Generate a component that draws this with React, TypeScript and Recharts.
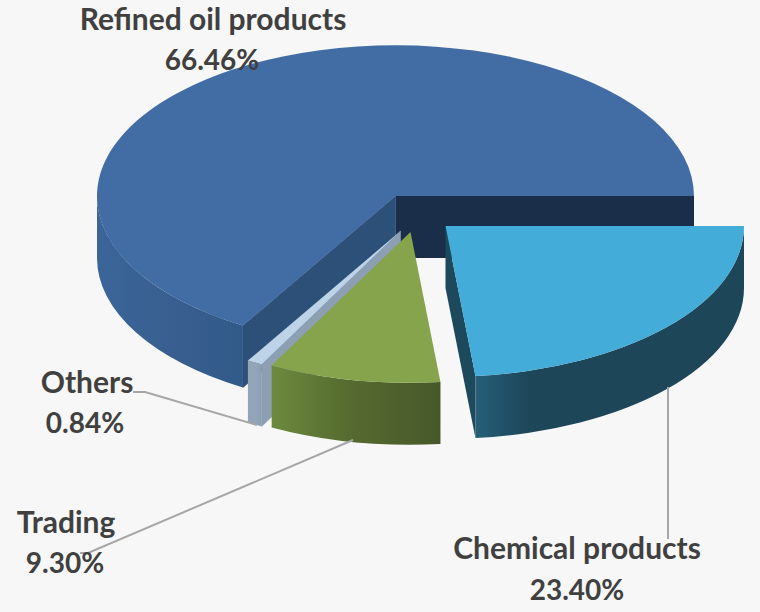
import { PieChart, Pie } from "recharts";

// going counter-clockwise from 3 o'clock, so the front slices are painted last
const categories = ["Refined oil products", "Others", "Trading", "Chemical products"];
const shares = [66.46, 0.84, 9.3, 23.4];

const data = categories.map((name, i) => ({ name, value: shares[i] }));

const WIDTH = 760;
const HEIGHT = 612;
const SQUASH = 0.505; // how flat the disc looks
const DEPTH = 62;

const sliceLook: Record<string, any> = {
  "Refined oil products": {
    dx: 0,
    dy: 0,
    top: "#426da4",
    startWall: "#1a2e4a",
    endWall: "#2d5079",
    rim: ["#3b6599", "#385f8f", "#325a89"],
    mid: 0.5,
  },
  Others: {
    dx: 5,
    dy: 35,
    top: "#bdd3e8",
    endWall: "#8c9fb3",
    rim: ["#93a5b9", "#93a5b9", "#8c9fb3"],
    mid: 0.5,
  },
  Trading: {
    dx: 15,
    dy: 36,
    top: "#86a44b",
    rim: ["#6c8a3e", "#566b2f", "#47582a"],
    mid: 0.45,
  },
  "Chemical products": {
    dx: 50,
    dy: 30,
    top: "#43acd9",
    startWall: "#1c4a5c",
    rim: ["#265e78", "#1d4659", "#1d4659"],
    mid: 0.2,
  },
};

const labelSpots: Record<string, any> = {
  "Refined oil products": { x: 213, y: 30, pctX: 212, pctY: 70 },
  Others: { x: 87, y: 393, pctX: 85, pctY: 433, leader: "133,392 145,392 257,425" },
  Trading: { x: 66, y: 533, pctX: 65, pctY: 573, leader: "80,553 88,553 353,440" },
  "Chemical products": { x: 577, y: 559, pctX: 577, pctY: 600, leader: "668,387 668,539" },
};

function wallPath(a: number[], b: number[], rx: number, ry: number, big: number) {
  return (
    `M${a[0]},${a[1]} A${rx},${ry} 0 ${big} 0 ${b[0]},${b[1]} ` +
    `L${b[0]},${b[1] + DEPTH} A${rx},${ry} 0 ${big} 1 ${a[0]},${a[1] + DEPTH} Z`
  );
}

function flatWall(c: number[], p: number[]) {
  return (
    `M${c[0]},${c[1]} L${p[0]},${p[1]} L${p[0]},${p[1] + DEPTH} L${c[0]},${c[1] + DEPTH} Z`
  );
}

// the library hands over the angles, the slice is then drawn as a tilted disc
function Slice3D(props: any) {
  const { cx, cy, outerRadius, startAngle, endAngle, name } = props;
  const look = sliceLook[name];
  const rx = outerRadius;
  const ry = outerRadius * SQUASH;
  const ox = cx + look.dx;
  const oy = cy + look.dy;
  const at = (deg: number) => {
    const t = (deg * Math.PI) / 180;
    return [ox + rx * Math.cos(t), oy - ry * Math.sin(t)];
  };
  const lo = Math.min(startAngle, endAngle);
  const hi = Math.max(startAngle, endAngle);
  const rimLo = Math.max(lo, 180);
  const rimHi = Math.min(hi, 360);
  const gradId = "rim-" + name.replace(/\s/g, "");
  const a = at(lo);
  const b = at(hi);
  const big = hi - lo > 180 ? 1 : 0;

  return (
    <g>
      <defs>
        <linearGradient id={gradId} x1="0" y1="0" x2="1" y2="0">
          <stop offset="0" stopColor={look.rim[0]} />
          <stop offset={look.mid} stopColor={look.rim[1]} />
          <stop offset="1" stopColor={look.rim[2]} />
        </linearGradient>
      </defs>
      {look.startWall && <path d={flatWall([ox, oy], a)} fill={look.startWall} />}
      {look.endWall && (
        <path
          d={flatWall([ox, oy], b)}
          fill={look.endWall}
          stroke={look.endWall}
          strokeWidth={0.6}
        />
      )}
      {rimHi > rimLo && (
        <path
          d={wallPath(at(rimLo), at(rimHi), rx, ry, 0)}
          fill={`url(#${gradId})`}
        />
      )}
      <path
        d={`M${ox},${oy} L${a[0]},${a[1]} A${rx},${ry} 0 ${big} 0 ${b[0]},${b[1]} Z`}
        fill={look.top}
      />
    </g>
  );
}

function SliceLabel(props: any) {
  const name = categories[props.index];
  const spot = labelSpots[name];
  const textStyle = {
    fontFamily: "Lato, sans-serif",
    fontWeight: 700,
    fill: "#404040",
  };
  return (
    <g>
      {spot.leader && (
        <polyline points={spot.leader} fill="none" stroke="#a6a6a6" strokeWidth={2} />
      )}
      <text x={spot.x} y={spot.y} textAnchor="middle" fontSize={30} style={textStyle}>
        {name}
      </text>
      <text x={spot.pctX} y={spot.pctY} textAnchor="middle" fontSize={28} style={textStyle}>
        {shares[props.index].toFixed(2)}%
      </text>
    </g>
  );
}

export default function App() {
  return (
    <div
      style={{
        position: "absolute",
        left: 0,
        top: 0,
        width: WIDTH,
        height: HEIGHT,
        background: "#f7f7f7",
      }}
    >
      <PieChart width={WIDTH} height={HEIGHT} margin={{ top: 0, right: 0, bottom: 0, left: 0 }}>
        <Pie
          data={data}
          dataKey="value"
          nameKey="name"
          cx={395.5}
          cy={196}
          outerRadius={298.5}
          startAngle={0}
          endAngle={360}
          stroke="none"
          shape={Slice3D}
          label={SliceLabel}
          labelLine={false}
          isAnimationActive={false}
        />
      </PieChart>
    </div>
  );
}
